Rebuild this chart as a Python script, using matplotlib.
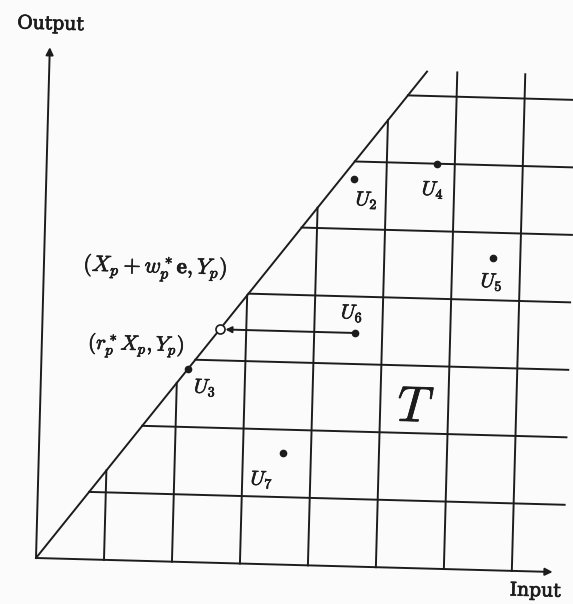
import numpy as np
import matplotlib
matplotlib.use('Agg')
from matplotlib import pyplot as plt
from matplotlib.transforms import Affine2D
from matplotlib.patches import FancyArrowPatch
from matplotlib import patheffects as pe

plt.rcParams['mathtext.fontset'] = 'cm'

#the technology set T is drawn on a grid, everything in "cell" units
cols = [1, 2, 3, 4, 5, 6, 7]      #vertical grid lines (input levels)
rows = [1, 2, 3, 4, 5, 6, 7]      #horizontal grid lines (output levels)
slope = 1.325                     #the ray through the origin (frontier)
top = 7.36                        #vertical lines and ray stop here
right = 7.75                      #horizontal lines stop here
yaxis_len = 7.57
xaxis_len = 7.6

#observed units
unit_names = ['$U_2$', '$U_4$', '$U_5$', '$U_6$', '$U_7$']
unit_in = [4.52, 5.74, 6.60, 4.60, 3.59]
unit_out = [5.74, 6.00, 4.63, 3.46, 1.65]

#U3 sits on the ray
u3_out = 2.86

ink = '#1c1c1c'
lw = 1.4
rot = -1.55   #the page was scanned a little crooked
#scanned print looks a bit heavier than plain text
heavy = [pe.withStroke(linewidth=0.5, foreground=ink)]

fig = plt.figure(figsize=(5.73, 6.04), dpi=100)
fig.patch.set_facecolor('#fbfbfb')
ax = fig.add_axes([0, 0, 1, 1])
ax.set_xlim(-36/68., 537/68.)
ax.set_ylim(-46/67.5, 558/67.5)
ax.set_autoscale_on(False)
ax.axis('off')

#rotate everything about the origin so it looks like the scan
ox, oy = ax.transData.transform((0, 0))
tr = ax.transData + Affine2D().rotate_deg_around(ox, oy, rot)

#grid
for c in cols:
    ax.plot([c, c], [0, min(slope*c, top)], color=ink, lw=lw, transform=tr)
for r in rows:
    ax.plot([r/slope, right], [r, r], color=ink, lw=lw, transform=tr)

#frontier ray
ax.plot([0, top/slope], [0, top], color=ink, lw=lw, transform=tr)

#axes with arrows
for end in [(0, yaxis_len), (xaxis_len, 0)]:
    arr = FancyArrowPatch((0, 0), end, arrowstyle='-|>', mutation_scale=11,
                          lw=lw, color=ink, shrinkA=0, shrinkB=0, transform=tr)
    ax.add_patch(arr)

ax.text(0, 7.91, 'Output', family='DejaVu Serif', fontsize=13.5, ha='center',
        va='center', color=ink, rotation=rot, transform=tr, path_effects=heavy)
ax.text(7.35, -0.29, 'Input', family='DejaVu Serif', fontsize=13.5, ha='center',
        va='center', color=ink, rotation=rot, transform=tr, path_effects=heavy)

#the units
ax.plot(unit_in, unit_out, 'o', ms=4.5, color=ink, ls='none', transform=tr)
ax.plot([u3_out/slope], [u3_out], 'o', ms=4.5, color=ink, transform=tr)

#label offsets (cells) for U2, U4, U5, U6, U7
offs = [(0.20, -0.31), (-0.05, -0.39), (-0.01, -0.36), (-0.05, 0.29), (-0.30, -0.40)]
for name, x, y, (dx, dy) in zip(unit_names, unit_in, unit_out, offs):
    ax.text(x+dx, y+dy, name, fontsize=14.5, ha='center', va='center',
            color=ink, rotation=rot, transform=tr, path_effects=heavy)
ax.text(u3_out/slope + 0.26, u3_out - 0.27, '$U_3$', fontsize=14.5, ha='center',
        va='center', color=ink, rotation=rot, transform=tr, path_effects=heavy)

#U6 projected onto the ray
proj_out = unit_out[3]
proj_in = proj_out/slope
arr = FancyArrowPatch((unit_in[3], proj_out), (proj_in, proj_out), arrowstyle='-|>',
                      mutation_scale=9, lw=lw, color=ink, shrinkA=0, shrinkB=4,
                      transform=tr)
ax.add_patch(arr)
ax.plot([proj_in], [proj_out], 'o', ms=6.5, mfc='white', mec=ink, mew=1.2,
        transform=tr)

ax.text(1.64, 4.34, r'$(X_p+w^*_p\mathbf{e},Y_p)$', fontsize=16, ha='center',
        va='center', color=ink, rotation=rot, transform=tr, path_effects=heavy)
ax.text(1.39, 3.18, r'$(r^*_pX_p,Y_p)$', fontsize=15, ha='center',
        va='center', color=ink, rotation=rot, transform=tr, path_effects=heavy)
ax.text(5.53, 2.38, '$T$', fontsize=36, ha='center', va='center',
        color=ink, rotation=rot, transform=tr, path_effects=heavy)

plt.savefig('out.png', dpi=100, facecolor=fig.get_facecolor())
